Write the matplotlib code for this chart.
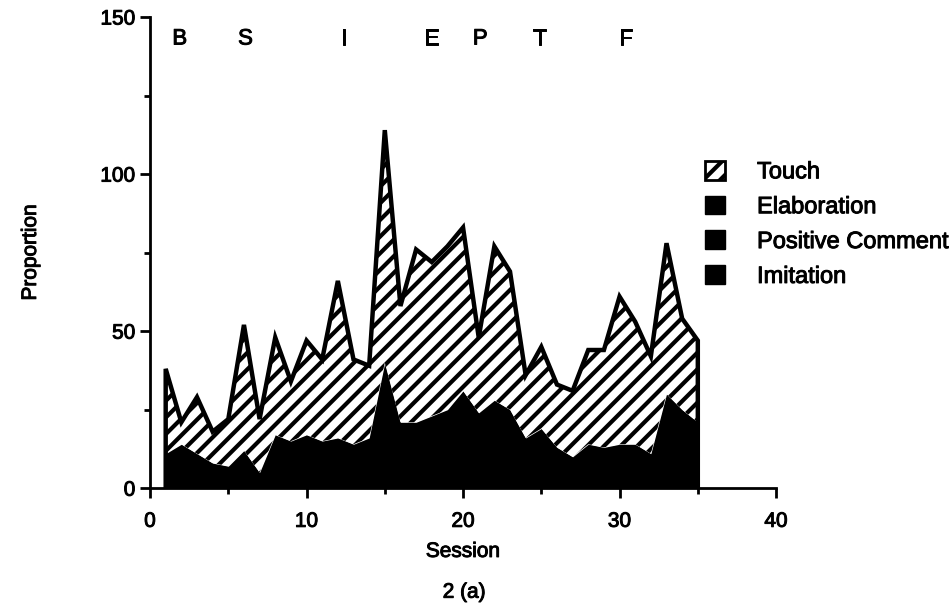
import numpy as np
import matplotlib.pyplot as plt
import matplotlib.patheffects as pe
from matplotlib.patches import Patch
from matplotlib.ticker import MultipleLocator

plt.rcParams['font.family'] = ['Liberation Sans', 'DejaVu Sans']
plt.rcParams['hatch.linewidth'] = 3.0

sessions = np.arange(1, 36)
# total height (touch on top of the rest)
total = [38, 21, 29, 18, 22, 52, 22, 48, 34, 47, 41, 66, 41, 39, 114,
         58, 76, 72, 77, 83, 48, 77, 69, 36, 45, 33, 31, 44, 44, 61,
         53, 42, 78, 54, 47]
# elaboration + positive comment + imitation (all drawn black)
black = [11, 14, 11, 8, 7, 12, 5, 17, 15, 17, 15, 16, 14, 16, 40,
         21, 21, 23, 25, 31, 24, 28, 25, 16, 19, 13, 10, 14, 13, 14,
         14, 11, 30, 25, 21]
phase_labels = ['B', 'S', 'I', 'E', 'P', 'T', 'F']
phase_x = [1.9, 6.1, 12.4, 18, 21.1, 24.9, 30.4]

heavy = [pe.withStroke(linewidth=0.7, foreground='black')]

fig = plt.figure(figsize=(9.52, 6.08), dpi=100)
ax = fig.add_axes([0.1576, 0.197, 0.6576, 0.775])

ax.fill_between(sessions, 0, black, facecolor='black', edgecolor='black', linewidth=0)
ax.fill_between(sessions, black, total, facecolor='white', edgecolor='black',
                hatch='//', linewidth=0)
ax.plot(np.r_[1, sessions, 35], np.r_[0, total, 0], color='black', lw=3.2,
        solid_joinstyle='miter')

for lab, xx in zip(phase_labels, phase_x):
    ax.text(xx, 143, lab, ha='center', va='center', fontsize=16, path_effects=heavy)

ax.set_xlim(0, 40)
ax.set_ylim(0, 150)
ax.spines['top'].set_visible(False)
ax.spines['right'].set_visible(False)
ax.spines['left'].set_linewidth(2)
ax.spines['bottom'].set_linewidth(2)
ax.xaxis.set_major_locator(MultipleLocator(10))
ax.xaxis.set_minor_locator(MultipleLocator(5))
ax.yaxis.set_major_locator(MultipleLocator(50))
ax.yaxis.set_minor_locator(MultipleLocator(25))
ax.tick_params(which='major', length=7, width=2, labelsize=15)
ax.tick_params(which='minor', length=4, width=2)
ax.tick_params(axis='x', pad=10)
for t in ax.get_xticklabels() + ax.get_yticklabels():
    t.set_path_effects(heavy)

ax.set_xlabel('Session', fontsize=15, labelpad=8, path_effects=heavy)
fig.text(0.032, 0.585, 'Proportion', rotation=90, ha='center', va='center',
         fontsize=15, path_effects=heavy)
fig.text(0.4875, 0.026, '2 (a)', ha='center', va='center', fontsize=15,
         path_effects=heavy)

handles = [Patch(facecolor='white', edgecolor='black', hatch='//', linewidth=2),
           Patch(facecolor='black', edgecolor='black'),
           Patch(facecolor='black', edgecolor='black'),
           Patch(facecolor='black', edgecolor='black')]
labels = ['Touch', 'Elaboration', 'Positive Comment', 'Imitation']
leg = ax.legend(handles, labels, loc='upper left', bbox_to_anchor=(0.8866, 0.695),
                frameon=False, fontsize=17, handlelength=0.85, handleheight=0.85,
                handletextpad=1.35, labelspacing=0.52, borderaxespad=0, borderpad=0)
for t in leg.get_texts():
    t.set_path_effects(heavy)

fig.savefig('out.png', dpi=100)
